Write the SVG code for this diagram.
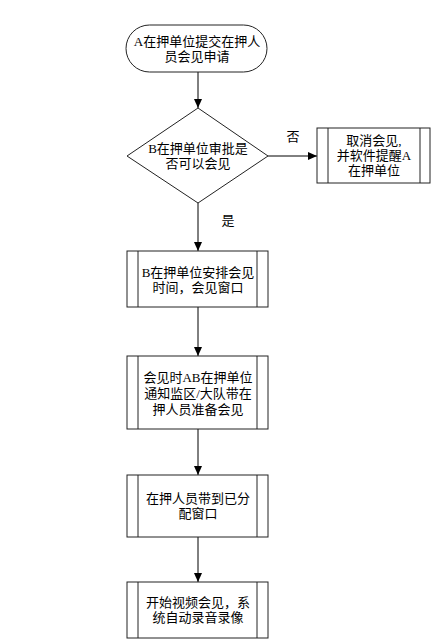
<svg xmlns="http://www.w3.org/2000/svg" width="434" height="642" viewBox="0 0 434 642">
<style>
.s{fill:#fff;stroke:#222;stroke-width:1}
.l{fill:none;stroke:#000;stroke-width:1}
text{font-family:"Liberation Serif","Noto Sans CJK SC",serif;font-size:13px;fill:#000;text-anchor:middle;dominant-baseline:central}
</style>
<defs>
<marker id="ah" markerWidth="10" markerHeight="8" refX="9" refY="4" orient="auto" markerUnits="userSpaceOnUse">
<path d="M0,0 L9,4 L0,8 Z" fill="#000"/>
</marker>
</defs>
<rect width="434" height="642" fill="#fff"/>
<g id="connectors">
<line class="l" x1="198" y1="72" x2="198" y2="108" marker-end="url(#ah)"/>
<line class="l" x1="268" y1="156" x2="317" y2="156" marker-end="url(#ah)"/>
<line class="l" x1="198" y1="203" x2="198" y2="251" marker-end="url(#ah)"/>
<line class="l" x1="198" y1="307" x2="198" y2="356" marker-end="url(#ah)"/>
<line class="l" x1="198" y1="429" x2="198" y2="475" marker-end="url(#ah)"/>
<line class="l" x1="198" y1="537" x2="198" y2="582" marker-end="url(#ah)"/>
<text x="293" y="136">否</text>
<text x="228" y="220">是</text>
</g>
<g id="start">
<rect class="s" x="126" y="25" width="141" height="47" rx="23.5" ry="23.5"/>
<text x="197" y="41">A在押单位提交在押人</text>
<text x="197" y="56">员会见申请</text>
</g>
<g id="decision">
<polygon class="s" points="198,108 268,156 198,203 127,156"/>
<text x="198" y="148">B在押单位审批是</text>
<text x="198" y="163">否可以会见</text>
</g>
<g id="cancel">
<rect class="s" x="317" y="128" width="113" height="55"/>
<line class="s" x1="328" y1="128" x2="328" y2="183"/>
<line class="s" x1="420" y1="128" x2="420" y2="183"/>
<text x="374" y="140">取消会见,</text>
<text x="374" y="155">并软件提醒A</text>
<text x="374" y="170">在押单位</text>
</g>
<g id="arrange">
<rect class="s" x="127" y="251" width="141" height="56"/>
<line class="s" x1="138" y1="251" x2="138" y2="307"/>
<line class="s" x1="257" y1="251" x2="257" y2="307"/>
<text x="198" y="272">B在押单位安排会见</text>
<text x="198" y="287">时间，会见窗口</text>
</g>
<g id="notify">
<rect class="s" x="127" y="356" width="141" height="73"/>
<line class="s" x1="138" y1="356" x2="138" y2="429"/>
<line class="s" x1="257" y1="356" x2="257" y2="429"/>
<text x="198" y="377">会见时AB在押单位</text>
<text x="198" y="393">通知监区/大队带在</text>
<text x="198" y="409">押人员准备会见</text>
</g>
<g id="bring">
<rect class="s" x="127" y="475" width="141" height="62"/>
<line class="s" x1="138" y1="475" x2="138" y2="537"/>
<line class="s" x1="257" y1="475" x2="257" y2="537"/>
<text x="198" y="498">在押人员带到已分</text>
<text x="198" y="513">配窗口</text>
</g>
<g id="video">
<rect class="s" x="127" y="582" width="141" height="56"/>
<line class="s" x1="138" y1="582" x2="138" y2="638"/>
<line class="s" x1="257" y1="582" x2="257" y2="638"/>
<text x="198" y="602">开始视频会见，系</text>
<text x="198" y="617">统自动录音录像</text>
</g>
</svg>
